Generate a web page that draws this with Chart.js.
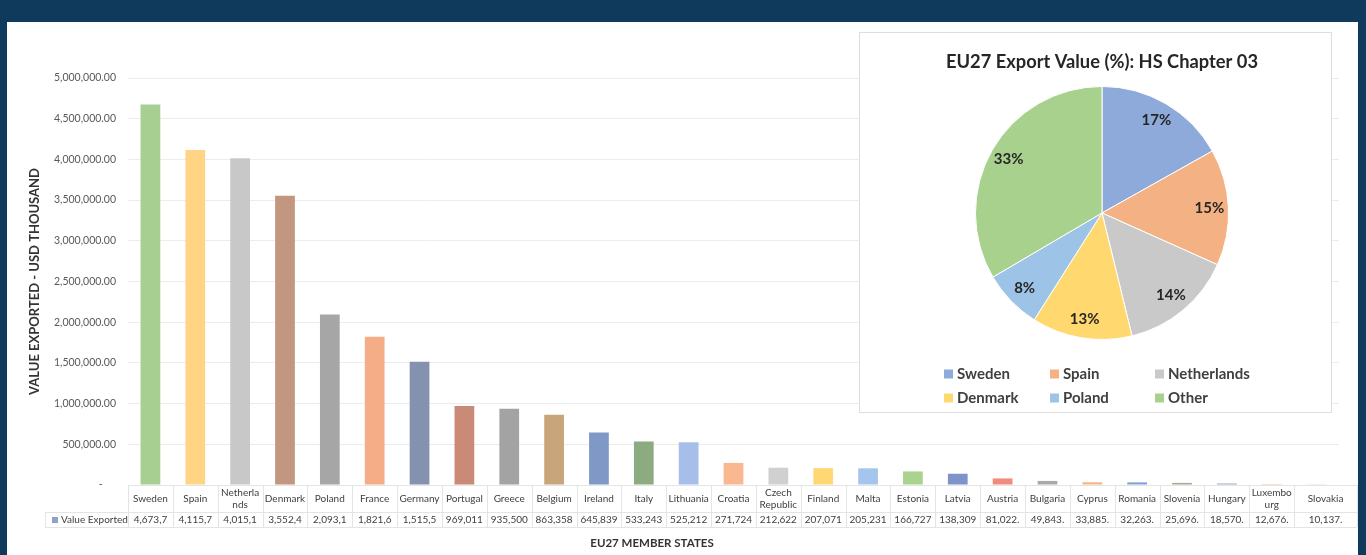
<!DOCTYPE html>
<html>
<head>
<meta charset="utf-8">
<title>EU27 Export Value: HS Chapter 03</title>
<script src="https://cdn.jsdelivr.net/npm/chart.js@4.4.1/dist/chart.umd.min.js"></script>
<style>
  html, body { margin: 0; padding: 0; }
  body {
    width: 1366px; height: 555px; overflow: hidden; position: relative;
    background: #0f3a5b; font-family: Lato, "Liberation Sans", sans-serif;
  }
  #sheet { position: absolute; left: 7px; top: 22px; width: 1351px; height: 533px; background: #ffffff; }
  #barWrap { position: absolute; left: 0; top: 0; width: 1366px; height: 555px; }
  #pieWrap {
    position: absolute; left: 859px; top: 32px; width: 471px; height: 379px;
    background: #ffffff; border: 1px solid #dedede;
  }
  canvas { display: block; }
</style>
</head>
<body>
<div id="sheet"></div>
<div id="barWrap"><canvas id="bars" width="1366" height="555"></canvas></div>
<div id="pieWrap"><canvas id="pie" width="471" height="379"></canvas></div>

<script>
// Member states, ordered by export value (USD thousand)
const countries = [
  "Sweden", "Spain", "Netherlands", "Denmark", "Poland", "France", "Germany",
  "Portugal", "Greece", "Belgium", "Ireland", "Italy", "Lithuania", "Croatia",
  "Czech Republic", "Finland", "Malta", "Estonia", "Latvia", "Austria",
  "Bulgaria", "Cyprus", "Romania", "Slovenia", "Hungary", "Luxembourg", "Slovakia"
];

// Category labels as wrapped in the data table
const tableLabels = [
  ["Sweden"], ["Spain"], ["Netherla", "nds"], ["Denmark"], ["Poland"], ["France"], ["Germany"],
  ["Portugal"], ["Greece"], ["Belgium"], ["Ireland"], ["Italy"], ["Lithuania"], ["Croatia"],
  ["Czech", "Republic"], ["Finland"], ["Malta"], ["Estonia"], ["Latvia"], ["Austria"],
  ["Bulgaria"], ["Cyprus"], ["Romania"], ["Slovenia"], ["Hungary"], ["Luxembo", "urg"], ["Slovakia"]
];

// Value exported, USD thousand
const exportValues = [
  4673700, 4115700, 4015100, 3552400, 2093100, 1821600, 1515500,
  969011, 935500, 863358, 645839, 533243, 525212, 271724,
  212622, 207071, 205231, 166727, 138309, 81022,
  49843, 33885, 32263, 25696, 18570, 12676, 10137
];

// Bar fill per member state
const barColors = [
  "#a6cf91", "#ffd485", "#c8c8c8", "#c2967f", "#a6a6a6", "#f5ad88", "#8492b0",
  "#c98a78", "#a3a3a3", "#c9a57b", "#7f98c6", "#8dab80", "#a7bdea", "#f9b88f",
  "#d0d0d0", "#ffd873", "#a5c6ec", "#a9d38f", "#7e92cc", "#f08c7b",
  "#a8a8a8", "#f5b58a", "#7ba3d8", "#a3ab95", "#9aa6d0", "#f6c896", "#d8d8d8"
];

// Value axis
const yMax = 5000000;
const yStep = 500000;

// Share chart: five largest exporters plus the rest
const pieTopCount = 5;
const pieLabels = countries.slice(0, pieTopCount).concat(["Other"]);
const pieValues = exportValues.slice(0, pieTopCount).concat([
  exportValues.slice(pieTopCount).reduce((a, b) => a + b, 0)
]);
const pieColors = ["#8eaadb", "#f4b183", "#c9c9c9", "#ffd870", "#9dc3e6", "#a9d18e"];

const FONT = "Lato, 'Liberation Sans', sans-serif";

// ---------- bar chart with data table underneath ----------
const dataTable = {
  id: "dataTable",
  afterDraw(chart) {
    const { ctx, chartArea } = chart;
    const x = chart.scales.x;
    const n = countries.length;
    const cw = (x.right - x.left) / n;
    const top = chartArea.bottom;
    const mid = top + 27;
    const bot = mid + 15;
    const keyLeft = 45;
    const tableRight = 1357;

    ctx.save();
    ctx.strokeStyle = "#e4e4e4";
    ctx.lineWidth = 1;
    const rule = (x1, y1, x2, y2) => {
      ctx.beginPath(); ctx.moveTo(x1, y1); ctx.lineTo(x2, y2); ctx.stroke();
    };
    rule(x.left, top + 0.5, tableRight, top + 0.5);
    rule(keyLeft, mid + 0.5, tableRight, mid + 0.5);
    rule(keyLeft, bot + 0.5, tableRight, bot + 0.5);
    rule(keyLeft + 0.5, mid, keyLeft + 0.5, bot);
    for (let i = 0; i <= n; i++) {
      const bx = Math.round(i === n ? tableRight : x.left + i * cw) + 0.5;
      rule(bx, top, bx, bot);
    }

    ctx.fillStyle = "#404040";
    ctx.font = "10px " + FONT;
    ctx.textAlign = "center";
    ctx.textBaseline = "middle";
    const lh = 12;
    for (let i = 0; i < n; i++) {
      const left = x.left + i * cw;
      const right = i === n - 1 ? tableRight : left + cw;
      const cx = (left + right) / 2;
      const lines = tableLabels[i];
      const y0 = (top + mid) / 2 - (lines.length - 1) * lh / 2;
      lines.forEach((t, k) => ctx.fillText(t, cx, y0 + k * lh));
      const txt = exportValues[i].toLocaleString("en-US", { minimumFractionDigits: 2, maximumFractionDigits: 2 }).slice(0, 7);
      ctx.fillText(txt, cx, (mid + bot) / 2 + 0.5);
    }

    // series key
    ctx.fillStyle = "#8fa2c9";
    ctx.fillRect(52, mid + 5, 6, 6);
    ctx.fillStyle = "#404040";
    ctx.textAlign = "left";
    ctx.fillText("Value Exported", 61, (mid + bot) / 2 + 0.5);

    // category axis title
    ctx.fillStyle = "#333333";
    ctx.font = "bold 11.5px " + FONT;
    ctx.textAlign = "center";
    ctx.fillText("EU27 MEMBER STATES", 652, 543);
    ctx.restore();
  }
};

new Chart(document.getElementById("bars"), {
  type: "bar",
  data: {
    labels: countries,
    datasets: [{
      label: "Value Exported",
      data: exportValues,
      backgroundColor: barColors,
      borderWidth: 0,
      categoryPercentage: 1,
      barPercentage: 0.44
    }]
  },
  options: {
    responsive: false,
    animation: false,
    layout: { padding: { left: 20, top: 78, right: 27, bottom: 0 } },
    plugins: { legend: { display: false }, tooltip: { enabled: false } },
    scales: {
      x: {
        grid: { display: false },
        border: { display: false },
        ticks: { display: false },
        afterFit(scale) { scale.height = 70; }
      },
      y: {
        min: 0,
        max: yMax,
        grid: { color: "#ececec", drawTicks: false },
        border: { display: false },
        ticks: {
          stepSize: yStep,
          padding: 12,
          color: "#595959",
          font: { family: FONT, size: 10.5 },
          callback: (v) => v === 0 ? "-     " :
            v.toLocaleString("en-US", { minimumFractionDigits: 2, maximumFractionDigits: 2 })
        },
        title: {
          display: true,
          text: "VALUE EXPORTED - USD THOUSAND",
          color: "#333333",
          font: { family: FONT, size: 13, weight: "bold" },
          padding: { top: 7, bottom: 0 }
        },
        afterFit(scale) { scale.width = 108; }
      }
    }
  },
  plugins: [dataTable]
});

// ---------- pie chart of shares ----------
const pieTotal = pieValues.reduce((a, b) => a + b, 0);

const sliceLabels = {
  id: "sliceLabels",
  afterDatasetsDraw(chart) {
    const { ctx } = chart;
    const meta = chart.getDatasetMeta(0);
    ctx.save();
    ctx.fillStyle = "#262626";
    ctx.font = "bold 15px " + FONT;
    ctx.textAlign = "center";
    ctx.textBaseline = "middle";
    meta.data.forEach((arc, i) => {
      const p = arc.getProps(["x", "y", "startAngle", "endAngle", "outerRadius"], true);
      const a = (p.startAngle + p.endAngle) / 2;
      const r = p.outerRadius * 0.85;
      const pct = Math.round(pieValues[i] / pieTotal * 100) + "%";
      ctx.fillText(pct, p.x + Math.cos(a) * r, p.y + Math.sin(a) * r);
    });
    ctx.restore();
  }
};

const pieLegend = {
  id: "pieLegend",
  afterDraw(chart) {
    const { ctx } = chart;
    const colX = [84, 190, 295];
    const rowY = [341, 365];
    ctx.save();
    ctx.font = "bold 15px " + FONT;
    ctx.textBaseline = "middle";
    ctx.textAlign = "left";
    pieLabels.forEach((name, i) => {
      const cx = colX[i % 3];
      const cy = rowY[Math.floor(i / 3)];
      ctx.fillStyle = pieColors[i];
      ctx.fillRect(cx, cy - 4.5, 9, 9);
      ctx.fillStyle = "#404040";
      ctx.fillText(name, cx + 13, cy + 0.5);
    });
    ctx.restore();
  }
};

new Chart(document.getElementById("pie"), {
  type: "pie",
  data: {
    labels: pieLabels,
    datasets: [{
      data: pieValues,
      backgroundColor: pieColors,
      borderColor: "#ffffff",
      borderWidth: 1
    }]
  },
  options: {
    responsive: false,
    animation: false,
    layout: { padding: { left: 42, right: 29, top: 0, bottom: 72 } },
    plugins: {
      legend: { display: false },
      tooltip: { enabled: false },
      title: {
        display: true,
        text: "EU27 Export Value (%): HS Chapter 03",
        color: "#262626",
        font: { family: FONT, size: 18.3, weight: "bold" },
        padding: { top: 18.5, bottom: 12.5 }
      }
    }
  },
  plugins: [sliceLabels, pieLegend]
});
</script>
</body>
</html>
